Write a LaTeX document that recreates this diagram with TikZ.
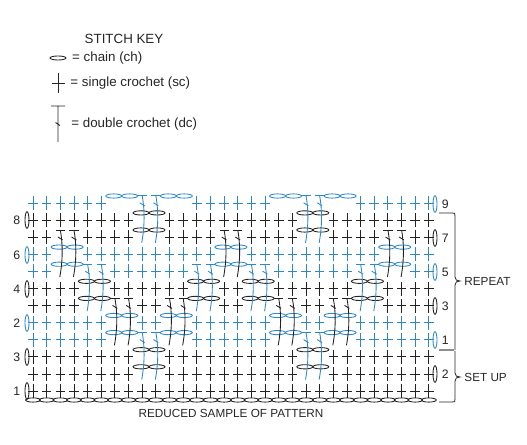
\documentclass[tikz,border=0pt]{standalone}
\usepackage{fontspec}
\setmainfont{Liberation Sans}
\usepackage{xcolor}
\usetikzlibrary{shapes.geometric,positioning}
\definecolor{stitchblue}{HTML}{2E88C8}
\definecolor{stitchblack}{HTML}{222222}

\begin{document}
\begin{tikzpicture}[
  x=0.75pt, y=-0.75pt,
  line width=0.65pt,
  keytext/.style={inner sep=0pt, font=\fontsize{10pt}{12pt}\selectfont, text=black!85},
  sidetext/.style={inner sep=0pt, font=\fontsize{8.8pt}{10pt}\selectfont, text=black!85},
  rowno/.style={inner sep=0pt, font=\fontsize{9.2pt}{10pt}\selectfont, text=black!85},
  keyoval/.style={ellipse, draw=black!85, inner sep=0pt, minimum width=12pt, minimum height=3pt},
  turnoval/.style={ellipse, draw, inner sep=0pt, minimum width=3pt, minimum height=12.5pt},
  bracket/.style={draw=black!85, line width=0.6pt},
  sc/.pic={\draw (-4.8,0) -- (4.8,0) (0,-7) -- (0,7);},
  dcst/.pic={\draw (-4.6,0) -- (4.6,0);
             \draw (0,0) .. controls (2.6,14) and (2.6,30) .. (-0.5,47);
             \draw (-2.4,7) -- (2.4,10);},
  chpair/.pic={\draw (-8,0) ellipse [x radius=8, y radius=2.1];
               \draw (8,0) ellipse [x radius=8, y radius=2.1];},
]
\useasboundingbox (0,0) rectangle (527,445);

%% Stitch key
\node[keytext] (keyhead) at (124,39) {STITCH KEY};
\node[keyoval] (keych) at (58,58) {};
\node[keytext, right=4pt of keych.east, anchor=west] (keychtxt) {= chain (ch)};
\draw[black!85] (52,83) -- (65,83) (58,73) -- (58,93);
\node[keytext, anchor=west] (keysctxt) at (70,83) {= single crochet (sc)};
\draw[black!85] (51,106) -- (65,106) (58,106) -- (58,142) (55.5,122.5) -- (60,125.5);
\node[keytext, anchor=west] (keydctxt) at (71,124) {= double crochet (dc)};

%% Single crochet rows, top to bottom
\foreach \r/\cc/\cols in {
  0/stitchblue/{0,1,2,3,4,5,12,13,14,15,16,17,24,25,26,27,28,29},
  1/stitchblack/{0,1,2,3,4,5,6,7,10,11,12,13,14,15,16,17,18,19,22,23,24,25,26,27,28,29},
  2/stitchblack/{0,1,4,5,6,7,10,11,12,13,16,17,18,19,22,23,24,25,28,29},
  3/stitchblue/{0,1,4,5,6,7,8,9,10,11,12,13,16,17,18,19,20,21,22,23,24,25,28,29},
  4/stitchblue/{0,1,6,7,8,9,10,11,18,19,20,21,22,23,28,29},
  5/stitchblack/{0,1,2,3,6,7,8,9,10,11,14,15,18,19,20,21,22,23,26,27,28,29},
  6/stitchblack/{0,1,2,3,8,9,14,15,20,21,26,27,28,29},
  7/stitchblue/{0,1,2,3,4,5,8,9,12,13,14,15,16,17,20,21,24,25,26,27,28,29},
  8/stitchblue/{0,1,2,3,4,5,12,13,14,15,16,17,24,25,26,27,28,29},
  9/stitchblack/{0,1,2,3,4,5,6,7,10,11,12,13,14,15,16,17,18,19,22,23,24,25,26,27,28,29},
  10/stitchblack/{0,1,2,3,4,5,6,7,10,11,12,13,14,15,16,17,18,19,22,23,24,25,26,27,28,29},
  11/stitchblack/{0,...,29}}
  \foreach \i in \cols
    \pic[color=\cc] at ({33+13.65*\i},{203+17.1*\r}) {sc};

%% Chain pairs: row, colour, left column
\foreach \r/\cc/\cols in {
  1/stitchblack/{8,20},
  3/stitchblue/{2,14,26},
  5/stitchblack/{4,12,16,24},
  7/stitchblue/{6,10,18,22},
  9/stitchblack/{8,20}}
  \foreach \i in \cols {
    \pic[color=\cc] at ({33+13.65*(\i+0.5)},{203+17.1*\r-7.2}) {chpair};
    \pic[color=\cc] at ({33+13.65*(\i+0.5)},{203+17.1*\r+9.9}) {chpair};
  }
\foreach \i in {6,10,18,22}
  \pic[color=stitchblue] at ({33+13.65*(\i+0.5)},196) {chpair};

%% Double crochets
\foreach \r/\cc/\cols in {
  0/stitchblue/{8,9,20,21},
  2/stitchblack/{2,3,14,15,26,27},
  4/stitchblue/{4,5,12,13,16,17,24,25},
  6/stitchblack/{6,7,10,11,18,19,22,23},
  8/stitchblue/{8,9,20,21}}
  \foreach \i in \cols
    \pic[color=\cc] at ({33+13.65*\i},{203+17.1*\r-7.2}) {dcst};

%% Foundation chain
\foreach \i in {0,...,29}
  \draw[stitchblack] ({33+13.65*\i},400) ellipse [x radius=7.4, y radius=2.1];

%% Turning chains and row numbers, left side
\foreach \n/\yy/\cc in {8/220/stitchblack, 6/255/stitchblue, 4/289/stitchblack,
                        2/323/stitchblue, 3/357/stitchblack, 1/391/stitchblack} {
  \node[turnoval, draw=\cc] (ltc\n) at (27,\yy) {};
  \node[rowno, left=3pt of ltc\n] (lno\n) {\n};
}
%% Turning chains and row numbers, right side
\foreach \n/\yy/\cc in {9/204/stitchblue, 7/238/stitchblack, 5/272/stitchblue,
                        3/306/stitchblack, 1/340/stitchblue, 2/374/stitchblack} {
  \node[turnoval, draw=\cc] (rtc\n) at (435,\yy) {};
  \node[rowno, right=3pt of rtc\n] (rno\n) {\n};
}

%% Brackets
\coordinate (reptop) at (439,213);
\coordinate (repbot) at (455,350);
\coordinate (settop) at (455,351);
\coordinate (setbot) at (439,402);
\draw[bracket] (reptop) -- (452,213) .. controls (455,213) .. (455,216) -- (455,277)
  .. controls (455,280) and (457,281) .. (460,281)
  .. controls (457,281) and (455,282) .. (455,285) -- (repbot);
\draw[bracket] (settop) -- (455,373)
  .. controls (455,376) and (457,377) .. (460,377)
  .. controls (457,377) and (455,378) .. (455,381) -- (455,399)
  .. controls (455,402) .. (452,402) -- (setbot);
\draw[black!45, line width=2.2pt] (439,350) -- (454,350);
\node[sidetext, anchor=west] (repeat) at (464,281) {REPEAT};
\node[sidetext, anchor=west] (setup) at (464,377) {SET UP};
\node[sidetext] (caption) at (231,413) {REDUCED SAMPLE OF PATTERN};
\end{tikzpicture}
\end{document}
